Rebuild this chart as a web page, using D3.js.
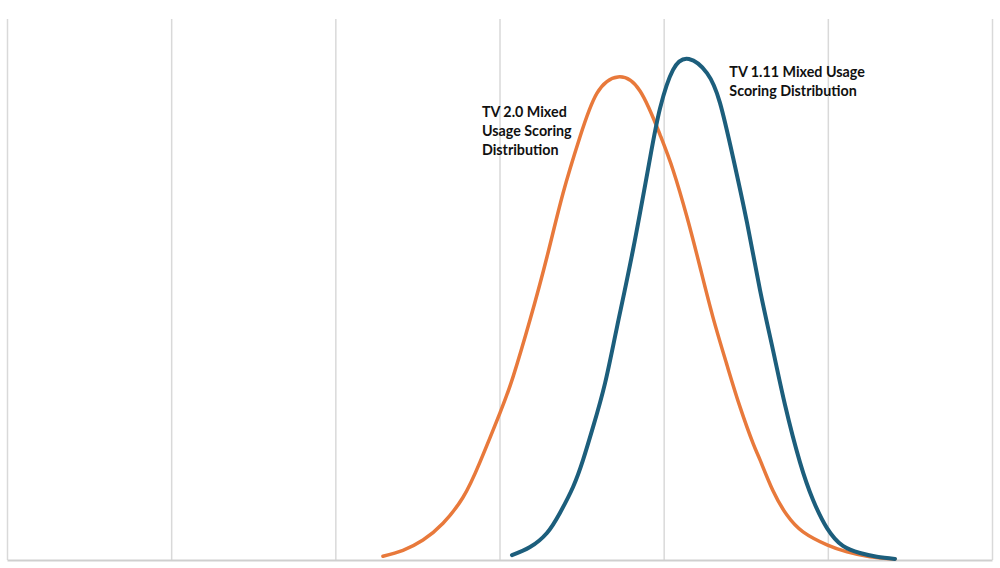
<!DOCTYPE html>
<html>
<head>
<meta charset="utf-8">
<script src="https://cdn.jsdelivr.net/npm/d3@7"></script>
<style>
  body { margin: 0; background: #fff; }
  .label { font-family: Lato, "Open Sans", sans-serif; font-weight: bold; font-size: 14.3px; fill: #111; }
</style>
</head>
<body>
<div id="chart"></div>
<script>
// score positions (grid units) and relative density
const tv20X = [2.290, 2.412, 2.534, 2.656, 2.778, 2.881, 3.003, 3.082, 3.186, 3.289, 3.387, 3.490, 3.594, 3.722,
  3.856, 3.978, 4.057, 4.142, 4.221, 4.300, 4.386, 4.465, 4.544, 4.587, 4.666, 4.751, 4.849, 4.995, 5.117, 5.257, 5.409];
const tv20Y = [0.007, 0.018, 0.037, 0.068, 0.116, 0.181, 0.272, 0.338, 0.444, 0.560, 0.678, 0.782, 0.863, 0.893,
  0.867, 0.786, 0.721, 0.634, 0.542, 0.449, 0.360, 0.283, 0.216, 0.185, 0.128, 0.083, 0.052, 0.028, 0.015, 0.006, 0.002];

const tv111X = [3.076, 3.186, 3.289, 3.368, 3.448, 3.509, 3.570, 3.643, 3.716, 3.813, 3.917, 3.978, 4.057, 4.154,
  4.264, 4.343, 4.422, 4.508, 4.587, 4.666, 4.739, 4.830, 4.910, 4.995, 5.092, 5.196, 5.299, 5.409];
const tv111Y = [0.009, 0.024, 0.050, 0.087, 0.135, 0.185, 0.246, 0.327, 0.431, 0.573, 0.743, 0.835, 0.906, 0.926,
  0.900, 0.845, 0.745, 0.623, 0.499, 0.388, 0.287, 0.181, 0.111, 0.059, 0.026, 0.013, 0.006, 0.002];

const gridTicks = [0, 1, 2, 3, 4, 5, 6];

const tv111Label = ["TV 1.11 Mixed Usage", "Scoring Distribution"];
const tv20Label = ["TV 2.0 Mixed", "Usage Scoring", "Distribution"];

const margin = { top: 19, right: 8, bottom: 8, left: 7 };
const width = 1000 - margin.left - margin.right;
const height = 568 - margin.top - margin.bottom;

const svg = d3.select("#chart")
  .append("svg")
  .attr("width", 1000)
  .attr("height", 568)
  .append("g")
  .attr("transform", `translate(${margin.left}, ${margin.top})`);

const xScale = d3.scaleLinear().domain([0, 6]).range([0, width]);
const yScale = d3.scaleLinear().domain([0, 1]).range([height, 0]);

// vertical gridlines
svg.append("g")
  .attr("transform", `translate(0, ${height})`)
  .call(d3.axisBottom(xScale).tickValues(gridTicks).tickSize(-height).tickFormat(""))
  .call(g => g.select(".domain").remove())
  .call(g => g.selectAll(".tick line").attr("stroke", "#d9d9d9").attr("stroke-width", 1.5));

// baseline
svg.append("g")
  .attr("transform", `translate(0, ${height})`)
  .call(d3.axisBottom(xScale).tickValues([]).tickSizeOuter(0))
  .call(g => g.select(".domain").attr("stroke", "#cfcfcf").attr("stroke-width", 2));

const line = d3.line()
  .x(d => xScale(d[0]))
  .y(d => yScale(d[1]))
  .curve(d3.curveNatural);

svg.append("path")
  .datum(d3.zip(tv20X, tv20Y))
  .attr("d", line)
  .attr("fill", "none")
  .attr("stroke", "#e8793b")
  .attr("stroke-width", 3.5)
  .attr("stroke-linecap", "round");

svg.append("path")
  .datum(d3.zip(tv111X, tv111Y))
  .attr("d", line)
  .attr("fill", "none")
  .attr("stroke", "#1c5e7c")
  .attr("stroke-width", 4)
  .attr("stroke-linecap", "round");

// labels
function addLabel(lines, x, y) {
  const t = svg.append("text")
    .attr("class", "label")
    .attr("x", xScale(x))
    .attr("y", yScale(y));
  t.selectAll("tspan")
    .data(lines)
    .join("tspan")
    .attr("x", xScale(x))
    .attr("dy", (d, i) => i === 0 ? 0 : 19)
    .text(d => d);
}

addLabel(tv111Label, 4.40, 0.893);
addLabel(tv20Label, 2.893, 0.819);
</script>
</body>
</html>
